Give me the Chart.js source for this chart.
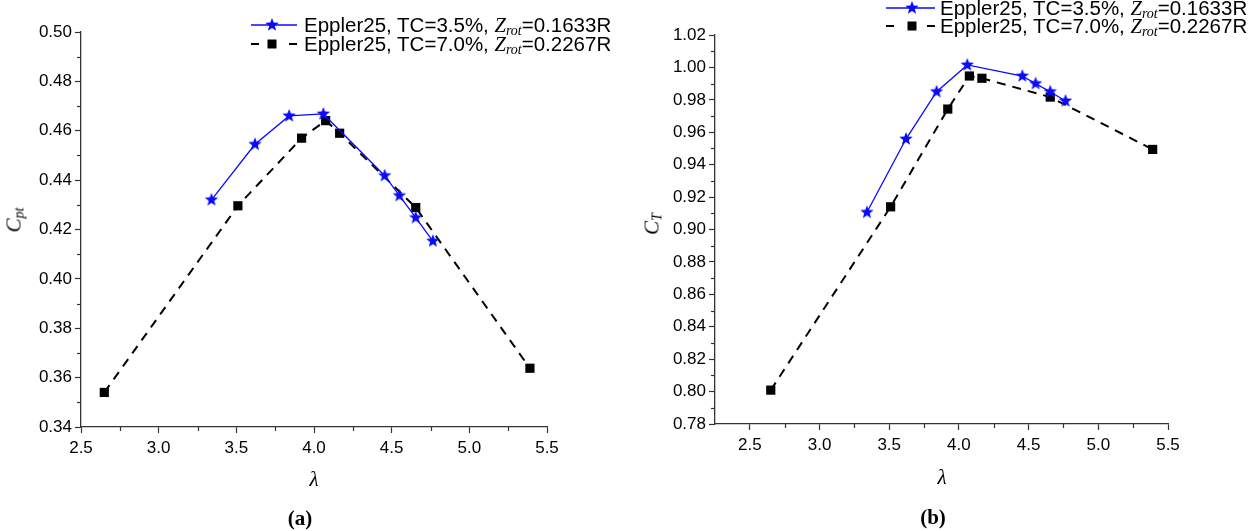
<!DOCTYPE html>
<html>
<head>
<meta charset="utf-8">
<script src="https://cdn.jsdelivr.net/npm/chart.js@4/dist/chart.umd.min.js"></script>
<style>
  body { margin: 0; background: #fff; width: 1258px; height: 531px; overflow: hidden; position: relative;
         font-family: "Liberation Sans", Arial, sans-serif; }
  .box { position: absolute; top: 0; width: 629px; height: 531px; }
  .t { position: absolute; white-space: nowrap; line-height: 1; color: #000; }
  .leg { font-size: 20.5px; transform: translateY(-50%); }
  .m { font-family: "Liberation Serif", "Times New Roman", serif; font-style: italic; }
  .m sub { font-size: 14px; vertical-align: -3px; line-height: 0; }
  .ctr { transform: translate(-50%, -50%); }
  .rot { transform: translate(-50%, -50%) rotate(-90deg); }
  .ax { font-family: "Liberation Serif", "Times New Roman", serif; font-style: italic; font-size: 21px; }
  .cap { font-family: "Liberation Serif", "Times New Roman", serif; font-weight: bold; font-size: 21px; }
</style>
</head>
<body>
<div class="box" style="left:0"><canvas id="chartA" width="629" height="531"></canvas></div>
<div class="box" style="left:629px"><canvas id="chartB" width="629" height="531"></canvas></div>

<!-- legends -->
<div class="t leg" style="left:304px;top:25px">Eppler25, TC=3.5%, <span class="m">Z<sub>rot</sub></span>=0.1633R</div>
<div class="t leg" style="left:304px;top:44px">Eppler25, TC=7.0%, <span class="m">Z<sub>rot</sub></span>=0.2267R</div>
<div class="t leg" style="left:940px;top:8px">Eppler25, TC=3.5%, <span class="m">Z<sub>rot</sub></span>=0.1633R</div>
<div class="t leg" style="left:940px;top:26px">Eppler25, TC=7.0%, <span class="m">Z<sub>rot</sub></span>=0.2267R</div>

<!-- axis titles and captions -->
<div class="t ax rot" style="left:15px;top:220px">C<sub style="font-size:14px;vertical-align:-3px">pt</sub></div>
<div class="t ax ctr" style="left:314px;top:479px">λ</div>
<div class="t cap ctr" style="left:300px;top:518px">(a)</div>
<div class="t ax rot" style="left:653px;top:224px">C<sub style="font-size:14px;vertical-align:-3px">T</sub></div>
<div class="t ax ctr" style="left:942px;top:477px">λ</div>
<div class="t cap ctr" style="left:933px;top:517px">(b)</div>

<script>
// ---------- data ----------
const lambda35 = [3.34, 3.62, 3.84, 4.06, 4.455, 4.55, 4.655, 4.765];   // TC=3.5%
const cpt35    = [0.432, 0.4545, 0.466, 0.4668, 0.4418, 0.4337, 0.4248, 0.4153];
const ct35     = [0.9106, 0.9558, 0.985, 1.0015, 0.9947, 0.990, 0.985, 0.9793];

const lambda70 = [2.65, 3.51, 3.92, 4.075, 4.165, 4.655, 5.39];          // TC=7.0%
const cpt70    = [0.354, 0.4296, 0.457, 0.4641, 0.459, 0.4289, 0.3638];
const ct70     = [0.8009, 0.914, 0.9743, 0.9947, 0.9933, 0.9817, 0.9494];

const lambdaTicks = [2.5, 3.0, 3.5, 4.0, 4.5, 5.0, 5.5];
const cptTicks = [0.34, 0.36, 0.38, 0.40, 0.42, 0.44, 0.46, 0.48, 0.50];
const ctTicks  = [0.78, 0.80, 0.82, 0.84, 0.86, 0.88, 0.90, 0.92, 0.94, 0.96, 0.98, 1.00, 1.02];

// ---------- helpers ----------
const AXIS = '#333';
const BLUE = '#0a0aff';

function starImage(r, color) {
    const c = document.createElement('canvas');
    const s = Math.ceil(r * 2 + 2);
    c.width = c.height = s;
    const g = c.getContext('2d');
    g.fillStyle = color;
    g.beginPath();
    for (let i = 0; i < 10; i++) {
        const rad = i % 2 ? r * 0.42 : r;
        const a = -Math.PI / 2 + i * Math.PI / 5;
        g.lineTo(s / 2 + rad * Math.cos(a), s / 2 + rad * Math.sin(a));
    }
    g.closePath();
    g.fill();
    return c;
}
const star = starImage(7, BLUE);

const pts = (xs, ys) => xs.map((x, i) => ({ x: x, y: ys[i] }));
const mids = (ticks) => ticks.slice(0, -1).map((v, i) => (v + ticks[i + 1]) / 2);

// minor ticks + legend samples
const extras = {
    id: 'extras',
    afterDraw(chart, args, o) {
        const ctx = chart.ctx, xs = chart.scales.x, ys = chart.scales.y;
        const a = chart.chartArea;
        ctx.save();
        ctx.strokeStyle = AXIS;
        ctx.lineWidth = 1.2;
        o.xMinor.forEach(v => {
            const px = Math.round(xs.getPixelForValue(v)) + 0.5;
            ctx.beginPath(); ctx.moveTo(px, a.bottom); ctx.lineTo(px, a.bottom + 4); ctx.stroke();
        });
        o.yMinor.forEach(v => {
            const py = Math.round(ys.getPixelForValue(v)) + 0.5;
            ctx.beginPath(); ctx.moveTo(a.left, py); ctx.lineTo(a.left - 4, py); ctx.stroke();
        });
        // legend samples
        const L = o.legend;
        ctx.strokeStyle = BLUE; ctx.lineWidth = 1.3;
        ctx.beginPath(); ctx.moveTo(L.x0, L.y1); ctx.lineTo(L.x1, L.y1); ctx.stroke();
        ctx.drawImage(star, L.xm - star.width / 2, L.y1 - star.height / 2);
        ctx.strokeStyle = '#000'; ctx.lineWidth = 2;
        ctx.beginPath();
        ctx.moveTo(L.x0, L.y2); ctx.lineTo(L.x0 + 8, L.y2);
        ctx.moveTo(L.x1 - 8, L.y2); ctx.lineTo(L.x1, L.y2);
        ctx.stroke();
        ctx.fillStyle = '#000';
        ctx.fillRect(L.xm - 4.5, L.y2 - 4.5, 9, 9);
        ctx.restore();
    }
};

function makeChart(id, c) {
    return new Chart(document.getElementById(id), {
        type: 'scatter',
        data: {
            datasets: [{
                label: 'Eppler25, TC=3.5%, Zrot=0.1633R',
                data: pts(lambda35, c.y35),
                showLine: true,
                borderColor: BLUE,
                borderWidth: 1.3,
                pointStyle: star,
                pointRadius: 7
            }, {
                label: 'Eppler25, TC=7.0%, Zrot=0.2267R',
                data: pts(lambda70, c.y70),
                showLine: true,
                borderColor: '#000',
                backgroundColor: '#000',
                borderWidth: 2,
                borderDash: [9, 7],
                pointStyle: 'rect',
                pointRadius: 6.5,
                pointBorderWidth: 0
            }]
        },
        options: {
            responsive: false,
            animation: false,
            devicePixelRatio: 1,
            layout: { padding: { left: 0, right: c.padRight, top: c.padTop, bottom: 0 } },
            plugins: {
                legend: { display: false },
                tooltip: { enabled: false },
                extras: { xMinor: c.xMinor, yMinor: mids(c.yTicks), legend: c.legend }
            },
            scales: {
                x: {
                    type: 'linear', min: c.xMin, max: 5.5,
                    afterFit: s => { s.height = c.xh; },
                    afterBuildTicks: s => { s.ticks = lambdaTicks.map(v => ({ value: v })); },
                    ticks: { callback: v => v.toFixed(1), color: '#000', padding: 5, maxRotation: 0, autoSkip: false,
                             font: { size: 17, family: '"Liberation Sans", Arial, sans-serif' } },
                    grid: { drawOnChartArea: false, tickLength: 6, tickColor: AXIS, tickWidth: 1.2 },
                    border: { color: AXIS, width: 1.3 }
                },
                y: {
                    type: 'linear', min: c.yTicks[0], max: c.yTicks[c.yTicks.length - 1],
                    afterFit: s => { s.width = c.yw; },
                    afterBuildTicks: s => { s.ticks = c.yTicks.map(v => ({ value: v })); },
                    ticks: { callback: v => v.toFixed(2), color: '#000', padding: 3, autoSkip: false,
                             font: { size: 17, family: '"Liberation Sans", Arial, sans-serif' } },
                    grid: { drawOnChartArea: false, tickLength: 6, tickColor: AXIS, tickWidth: 1.2 },
                    border: { color: AXIS, width: 1.3 }
                }
            }
        },
        plugins: [extras]
    });
}

makeChart('chartA', {
    y35: cpt35, y70: cpt70, yTicks: cptTicks,
    xMin: 2.5, xMinor: [2.75, 3.25, 3.75, 4.25, 4.75, 5.25],
    yw: 81, xh: 104, padRight: 82, padTop: 32,
    legend: { x0: 251, x1: 297, xm: 272, y1: 25, y2: 44 }
});

makeChart('chartB', {
    y35: ct35, y70: ct70, yTicks: ctTicks,
    xMin: 2.25, xMinor: [2.75, 3.25, 3.75, 4.25, 4.75, 5.25],
    yw: 86, xh: 107, padRight: 90, padTop: 35,
    legend: { x0: 257, x1: 306, xm: 283, y1: 8, y2: 26 }
});
</script>
</body>
</html>
